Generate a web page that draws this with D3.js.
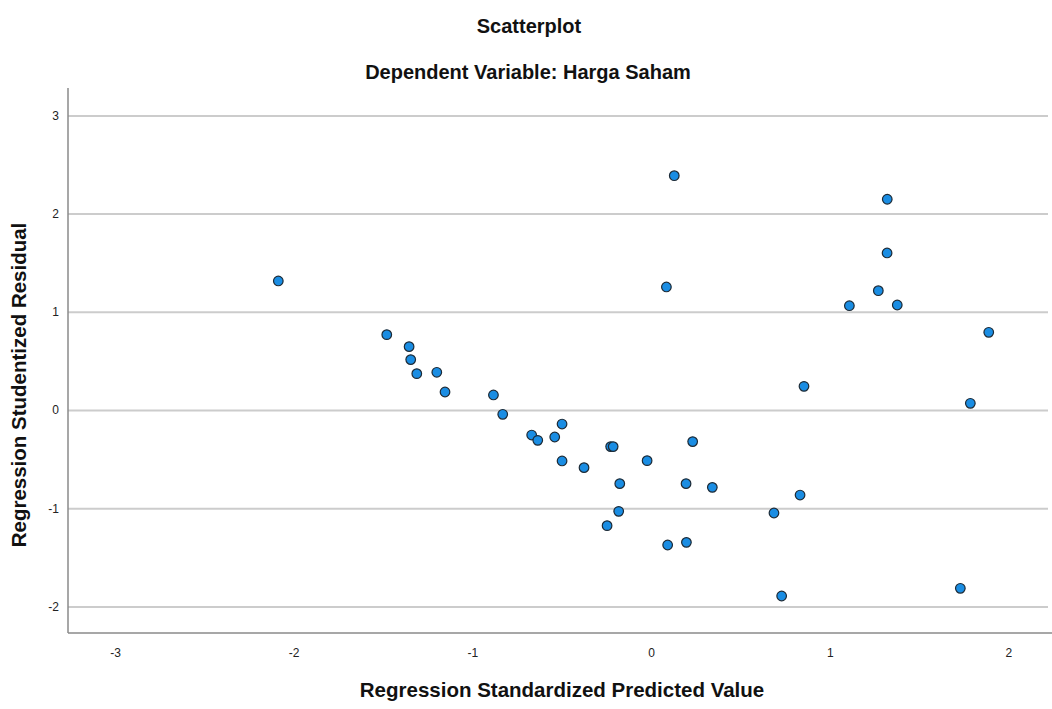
<!DOCTYPE html>
<html>
<head>
<meta charset="utf-8">
<script src="https://cdn.jsdelivr.net/npm/d3@7"></script>
<style>
  html, body { margin: 0; padding: 0; background: #fff; }
  svg { display: block; }
  text { font-family: "Liberation Sans", Arial, sans-serif; }
</style>
</head>
<body>
<svg id="chart" width="1052" height="709"></svg>
<script>
// Data
const predicted = [
  -2.086, -1.479, -1.354, -1.345, -1.311, -1.199, -1.153, -0.882, -0.830, -0.668,
  -0.634, -0.539, -0.498, -0.498, -0.375, -0.226, -0.212, -0.246, -0.181, -0.175,
  -0.022, 0.093, 0.086, 0.130, 0.196, 0.198, 0.233, 0.343, 0.688, 0.731,
  0.834, 0.856, 1.110, 1.272, 1.321, 1.322, 1.378, 1.731, 1.787, 1.890
];
const residual = [
  1.314, 0.767, 0.645, 0.513, 0.370, 0.384, 0.183, 0.153, -0.044, -0.255,
  -0.309, -0.275, -0.143, -0.519, -0.587, -0.373, -0.373, -1.178, -1.032, -0.750,
  -0.516, -1.375, 1.253, 2.386, -0.750, -1.348, -0.322, -0.788, -1.049, -1.894,
  -0.866, 0.241, 1.062, 1.215, 1.599, 2.146, 1.069, -1.816, 0.068, 0.791
];
const xTicks = [-3, -2, -1, 0, 1, 2];
const yTicks = [-2, -1, 0, 1, 2, 3];
const titleText = "Scatterplot";
const subtitleText = "Dependent Variable: Harga Saham";
const xLabel = "Regression Standardized Predicted Value";
const yLabel = "Regression Studentized Residual";

const svg = d3.select("#chart");
const mLeft = 68, mRight = 1052, mTop = 88, mBottom = 633;
const fmt = d => String(d);  // plain hyphen minus, as in the reference

const x = d3.scaleLinear().domain([-3.263, 2.244]).range([mLeft, mRight]);
const y = d3.scaleLinear().domain([-2.271, 3.279]).range([mBottom, mTop]);

// gridlines
svg.append("g")
  .attr("transform", `translate(${mLeft},0)`)
  .call(d3.axisLeft(y).tickValues(yTicks).tickSize(-(mRight - mLeft - 4)).tickFormat(""))
  .call(g => g.select(".domain").remove())
  .call(g => g.selectAll("line").attr("stroke", "#cccccc").attr("stroke-width", 2));

// y tick labels
svg.append("g")
  .attr("transform", `translate(${mLeft},0)`)
  .call(d3.axisLeft(y).tickValues(yTicks).tickSize(0).tickPadding(9).tickFormat(fmt))
  .call(g => g.select(".domain").remove())
  .call(g => g.selectAll("text").attr("font-size", 12).attr("fill", "#222"));

// x tick labels
svg.append("g")
  .attr("transform", `translate(0,${mBottom})`)
  .call(d3.axisBottom(x).tickValues(xTicks).tickSize(0).tickPadding(15).tickFormat(fmt))
  .call(g => g.select(".domain").remove())
  .call(g => g.selectAll("text").attr("font-size", 12).attr("fill", "#222"));

// axis lines
svg.append("line").attr("x1", mLeft).attr("x2", mLeft).attr("y1", mTop).attr("y2", mBottom)
  .attr("stroke", "#8a8a8a").attr("stroke-width", 1.5);
svg.append("line").attr("x1", mLeft).attr("x2", mRight).attr("y1", mBottom).attr("y2", mBottom)
  .attr("stroke", "#8a8a8a").attr("stroke-width", 1.5);

// points
svg.append("g").selectAll("circle")
  .data(predicted.map((p, i) => [p, residual[i]]))
  .join("circle")
  .attr("cx", d => x(d[0]))
  .attr("cy", d => y(d[1]))
  .attr("r", 4.8)
  .attr("fill", "#1a8de3")
  .attr("stroke", "#1c2a36")
  .attr("stroke-width", 1.2);

// titles
svg.append("text").attr("x", 529).attr("y", 33).attr("text-anchor", "middle")
  .attr("font-size", 20).attr("font-weight", "bold").attr("fill", "#111").text(titleText);
svg.append("text").attr("x", 528).attr("y", 79).attr("text-anchor", "middle")
  .attr("font-size", 20).attr("font-weight", "bold").attr("fill", "#111").text(subtitleText);
svg.append("text").attr("x", 562).attr("y", 697).attr("text-anchor", "middle")
  .attr("font-size", 20.5).attr("font-weight", "bold").attr("fill", "#111").text(xLabel);
svg.append("text").attr("transform", "translate(26,385) rotate(-90)").attr("text-anchor", "middle")
  .attr("font-size", 20.5).attr("font-weight", "bold").attr("fill", "#111").text(yLabel);
</script>
</body>
</html>
